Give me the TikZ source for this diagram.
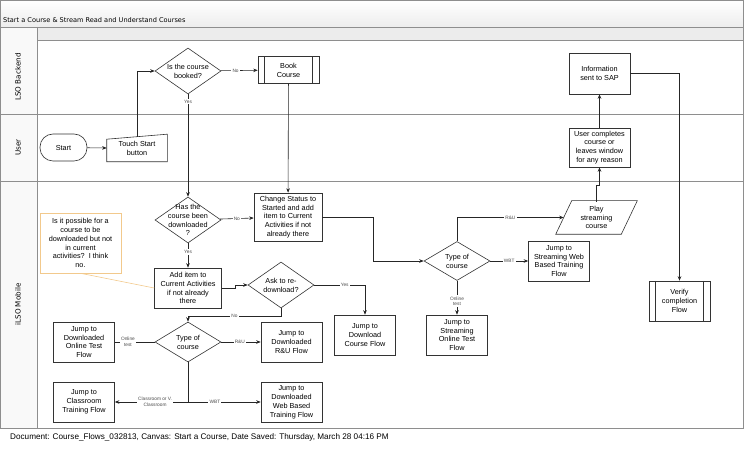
\documentclass[tikz,border=0pt]{standalone}
\usepackage{fontspec}
\setmainfont{Liberation Sans}
\newfontfamily\lanefont{DejaVu Sans}
\usetikzlibrary{arrows.meta,positioning,shapes.geometric,calc}
\definecolor{framegray}{HTML}{8E8E8E}
\definecolor{bandgray}{HTML}{ECECEC}
\definecolor{noteorange}{HTML}{F2C98C}
\definecolor{shapeline}{HTML}{333333}
\tikzset{
  >={Stealth[length=4.5bp,width=3.6bp]},
  % shapes
  box/.style={rectangle,draw=shapeline,line width=0.6pt,fill=white,align=center,
              font=\fontsize{7.3}{8.9}\selectfont,inner sep=1pt,
              minimum width=61bp,minimum height=40bp},
  pproc/.style={box,path picture={
      \draw[shapeline,line width=0.5pt]
        ([xshift=6.5bp]path picture bounding box.north west) -- ([xshift=6.5bp]path picture bounding box.south west)
        ([xshift=-6.5bp]path picture bounding box.north east) -- ([xshift=-6.5bp]path picture bounding box.south east);}},
  dec/.style={diamond,draw=shapeline,line width=0.6pt,fill=white,inner sep=0pt,
              minimum width=66bp,minimum height=46bp},
  dtxt/.style={align=center,font=\fontsize{7.3}{8.9}\selectfont,inner sep=0pt},
  term/.style={box,rounded corners=13bp,minimum width=47bp,minimum height=27bp},
  % connectors
  flow/.style={draw=black!85,line width=0.6pt},
  lbl/.style={fill=white,font=\fontsize{4.8}{5.6}\selectfont,text=black!70,
              inner sep=1.2pt,align=center},
  note/.style={draw=noteorange,line width=0.6pt},
  % frame
  lane/.style={font=\lanefont\fontsize{7.2}{8}\selectfont,rotate=90},
  frame/.style={draw=framegray,line width=0.8pt},
}
\begin{document}
\begin{tikzpicture}[x=1bp,y=-1bp]
\useasboundingbox (0,0) rectangle (750,455);
  % swimlanes
  \shade[top color=white,bottom color=gray!14] (0,0) rectangle (743,27);
  \fill[gray!5] (0,27) rectangle (37,428);
  \fill[bandgray] (37,27) rectangle (743,40);
  \draw[frame] (0,0) rectangle (743,428);
  \draw[frame] (0,27) -- (743,27) (37,40) -- (743,40) (37,27) -- (37,428);
  \draw[frame] (0,114) -- (743,114) (0,181) -- (743,181);
  \node[anchor=west,font=\lanefont\fontsize{6.6}{8}\selectfont,inner sep=0pt] (title) at (3,20)
    {Start a Course \& Stream Read and Understand Courses};
  \node[lane] (lsob) at (18,77) {LSO Backend};
  \node[lane] (usr) at (18,147.5) {User};
  \node[lane] (ilso) at (18,304.5) {iLSO Mobile};
  \node[anchor=west,font=\fontsize{8.2}{9}\selectfont,inner sep=0pt] (foot) at (10,437)
    {Document: Course\_Flows\_032813, Canvas: Start a Course, Date Saved: Thursday, March 28 04:16 PM};

  % nodes
  \node[term] (start) at (63.5,147.5) {Start};
  \node[box,draw=none,fill=none,minimum width=60bp,minimum height=27bp] (touch) at (137,148) {Touch Start\\button};
  \draw[shapeline,line width=0.6pt] (touch.south west) -- ([yshift=-5bp]touch.north west)
    -- (touch.north east) -- (touch.south east) -- cycle;
  \node[dec,label={[dtxt]center:Is the course\\booked?}] (booked) at (188,71) {};
  \node[pproc,minimum height=27bp] (book) at (288.5,70) {Book\\Course};
  \node[dec,label={[dtxt]center:Has the\\course been\\downloaded\\?}] (dled) at (188,220) {};
  \node[box,minimum width=68bp,minimum height=48bp] (change) at (288,217)
    {Change Status to\\Started and add\\item to Current\\Activities if not\\already there};
  \node[box,minimum width=67bp] (additem) at (188,288)
    {Add item to\\Current Activities\\if not already\\there};
  \node[dec,label={[dtxt]center:Ask to re-\\download?}] (ask) at (281,285) {};
  \node[box] (dlflow) at (365,335) {Jump to\\Download\\Course Flow};
  \node[dec,minimum height=40bp,label={[dtxt]center:Type of\\course}] (typedl) at (188,342) {};
  \node[box] (dlot) at (84,342) {Jump to\\Downloaded\\Online Test\\Flow};
  \node[box] (dlru) at (291.5,342) {Jump to\\Downloaded\\R\&U Flow};
  \node[box] (classr) at (84,402) {Jump to\\Classroom\\Training Flow};
  \node[box] (dlwbt) at (291.5,402) {Jump to\\Downloaded\\Web Based\\Training Flow};
  \node[dec,minimum height=39bp,label={[dtxt]center:Type of\\course}] (typest) at (457,261) {};
  \node[box,draw=none,fill=none,minimum width=65bp,minimum height=33bp] (play) at (596.5,217.5)
    {Play\\streaming\\course};
  \draw[shapeline,line width=0.6pt] ([xshift=8bp]play.north west) -- ([xshift=8bp]play.north east)
    -- ([xshift=-8bp]play.south east) -- ([xshift=-8bp]play.south west) -- cycle;
  \node[box] (stwbt) at (559,261) {Jump to\\Streaming Web\\Based Training\\Flow};
  \node[box] (stot) at (457,335) {Jump to\\Streaming\\Online Test\\Flow};
  \node[box,minimum height=39bp] (ucomp) at (599.5,147.5)
    {User completes\\course or\\leaves window\\for any reason};
  \node[box,minimum height=41bp] (info) at (599.5,73.5) {Information\\sent to SAP};
  \node[pproc] (verify) at (679.5,301) {Verify\\completion\\Flow};
  \node[box,note,fill=none,minimum width=81bp,minimum height=60bp] (comment) at (80.5,243)
    {Is it possible for a\\course to be\\downloaded but not\\in current\\activities?~~I think\\no.};

  % connectors
  \draw[note] (comment.south) -- (additem.west);
  \draw[flow,->] (start) -- (touch.west);
  \draw[flow,->] ([yshift=-2.5bp]touch.north) |- (booked.west);
  \draw[flow,->] (booked) -- node[lbl,pos=0.4] {No} (book);
  \draw[flow,->] (booked) -- node[lbl,pos=0.07] {Yes} (dled);
  \draw[flow,->] (book) -- (change);
  \draw[flow,->] (dled) -- node[lbl] {No} (change);
  \draw[flow,->] (dled) -- node[lbl,pos=0.36] {Yes} (additem);
  \draw[flow,->] (additem.east) -- ++(13,0) |- (ask.west);
  \draw[flow,->] (ask.east) -- node[lbl,pos=0.6] {Yes} (ask.east -| dlflow.north) -- (dlflow.north);
  \coordinate (nojog) at (281,316);
  \draw[flow,->] (ask.south) -- (nojog) -- node[lbl] {No} (nojog -| typedl.north) -- (typedl.north);
  \draw[flow] (typedl.west) -- node[lbl,pos=0.67] {Online\\test} (dlot.east);
  \draw[flow,->] (typedl.east) -- node[lbl,pos=0.47] {R\&U} (dlru.west);
  \coordinate (split) at (188,402);
  \draw[flow] (typedl.south) -- (split);
  \draw[flow,->] (split) -- node[lbl,pos=0.45] {Classroom or V.\\Classroom} (classr.east);
  \draw[flow,->] (split) -- node[lbl,pos=0.37] {WBT} (dlwbt.west);
  \draw[flow,->] (change.east) -- ++(51,0) |- (typest.west);
  \draw[flow,->] (typest.north) |- node[lbl,pos=0.75] {R\&U} (play.west);
  \draw[flow,->] (typest.east) -- node[lbl] {WBT} (stwbt.west);
  \draw[flow,->] (typest.south) -- node[lbl,pos=0.6] {Online\\test} (stot.north);
  \draw[flow,->] ([yshift=-1bp]play.north) -- ++(0,-16) -| (ucomp.south);
  \draw[flow,->] (ucomp) -- (info);
  \draw[flow,->] (info.east) -| (verify.north);
\end{tikzpicture}
\end{document}
